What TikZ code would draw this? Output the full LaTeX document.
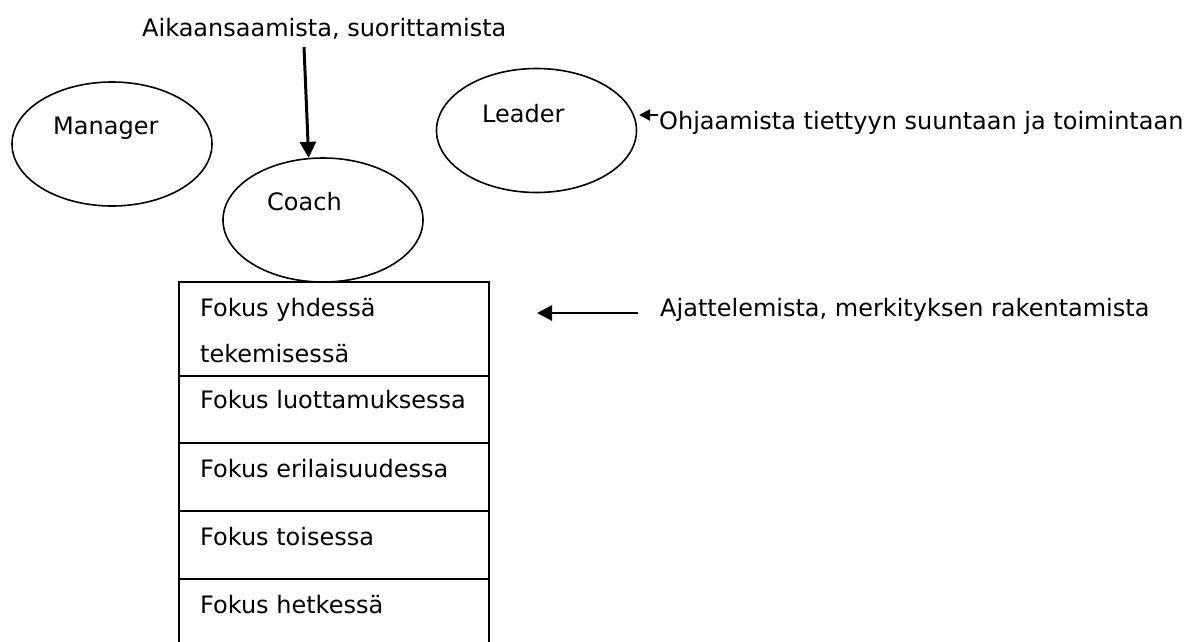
\documentclass[tikz,border=0pt]{standalone}
\usepackage{fontspec}
\setmainfont{DejaVu Sans}
\usetikzlibrary{shapes.geometric,arrows.meta}
\tikzset{
  ell/.style={draw, line width=1.6pt, ellipse, inner sep=0pt, minimum width=200pt, minimum height=124pt},
  txt/.style={anchor=base west, inner sep=0pt, font=\fontsize{24}{28}\selectfont},
  tbl/.style={line width=1.6pt},
  bigarr/.style={line width=3pt, -{Triangle[length=16pt,width=16pt]}},
  midarr/.style={line width=2.8pt, -{Triangle[length=15pt,width=15pt]}},
  smallarr/.style={line width=2pt, -{Triangle[length=11pt,width=11pt]}}
}
\begin{document}
\begin{tikzpicture}[x=1pt,y=-1pt]
\useasboundingbox (0,0) rectangle (1186,641);
% ellipses
\node[ell] (manager) at (112,144) {};
\node[ell] (coach) at (323,220) {};
\node[ell] (leader) at (536.5,130.5) {};
% ellipse texts
\node[txt] (tman) at (53,134) {Manager};
\node[txt] (tcoach) at (267,210) {Coach};
\node[txt] (tlead) at (482,122) {Leader};
% top label and arrow
\node[txt] (top) at (142,36) {Aikaansaamista, suorittamista};
\coordinate (a1) at (304,47);
\draw[bigarr] (a1) -- (coach.103.6);
% leader label and arrow
\node[txt] (ohj) at (659,129) {Ohjaamista tiettyyn suuntaan ja toimintaan};
\coordinate (o1) at (658,115);
\coordinate (o2) at (639,115);
\draw[smallarr] (o1) -- (o2);
% table arrow and label
\node[txt] (ajat) at (660,316) {Ajattelemista, merkityksen rakentamista};
\coordinate (b1) at (638,313);
\coordinate (b2) at (537,313);
\draw[midarr] (b1) -- (b2);
% table
\coordinate (tl) at (179,282);
\coordinate (tr) at (489,282);
\coordinate (bl) at (179,645);
\coordinate (br) at (489,645);
\draw[tbl] (bl) -- (tl) -- (tr) -- (br);
\foreach \y in {376,443,511,579}{\draw[tbl] (179,\y) -- (489,\y);}
\node[txt] (r1a) at (200,316) {Fokus yhdessä};
\node[txt] (r1b) at (200,362) {tekemisessä};
\node[txt] (r2) at (200,408) {Fokus luottamuksessa};
\node[txt] (r3) at (200,477) {Fokus erilaisuudessa};
\node[txt] (r4) at (200,545) {Fokus toisessa};
\node[txt] (r5) at (200,613) {Fokus hetkessä};
\end{tikzpicture}
\end{document}
